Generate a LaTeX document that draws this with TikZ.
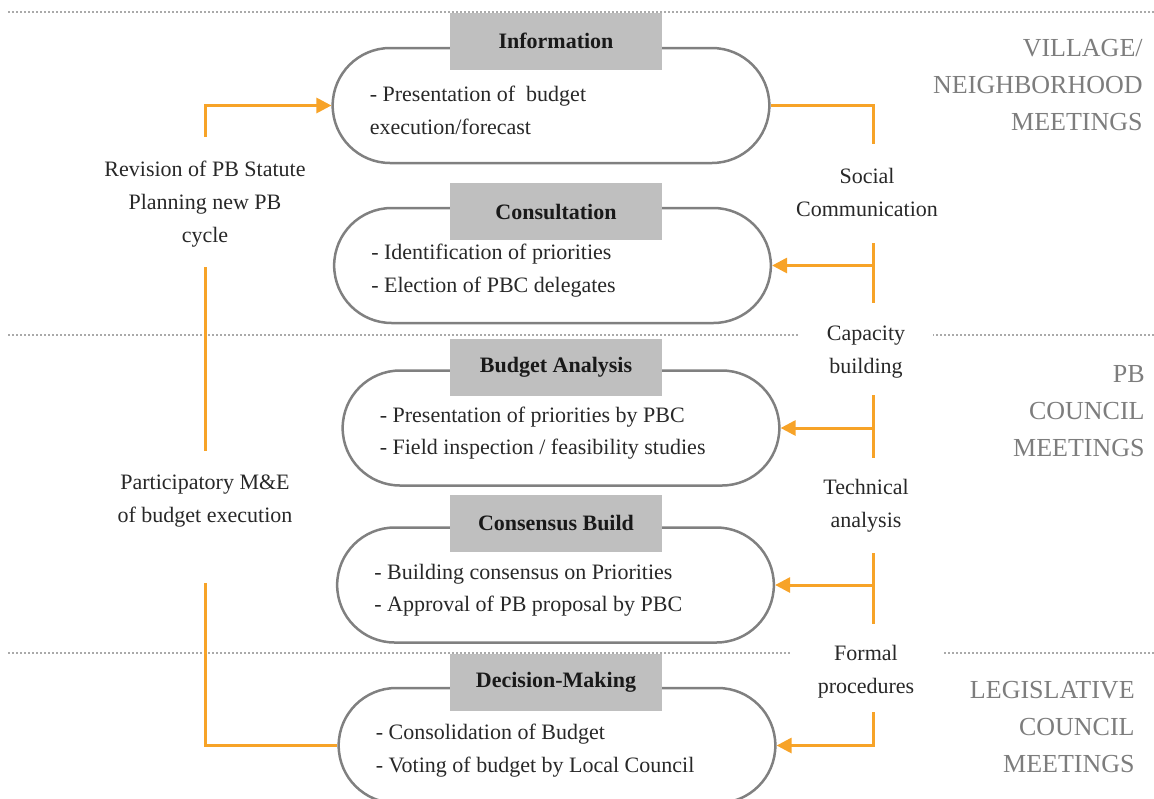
\documentclass[tikz,border=0pt]{standalone}
\usepackage{fontspec}
\setmainfont{Liberation Serif}
\usetikzlibrary{positioning,shapes.misc,arrows.meta}

\definecolor{floworange}{RGB}{247,163,40}
\definecolor{pillgray}{RGB}{128,128,128}
\definecolor{headgray}{RGB}{191,191,191}
\definecolor{textgray}{RGB}{40,40,40}
\definecolor{levelgray}{RGB}{125,125,125}
\definecolor{dotgray}{RGB}{170,170,170}

\begin{document}
\begin{tikzpicture}[x=0.5pt, y=-0.5pt,
        pill/.style={rounded rectangle, draw=pillgray, line width=1.25pt, fill=white,
                     minimum width=225pt, minimum height=57.5pt},
        head/.style={fill=headgray, minimum width=106pt, minimum height=28.5pt,
                     font=\fontsize{11}{13}\selectfont\bfseries, text=black!90},
        items/.style={align=left, font=\fontsize{11}{16.25}\selectfont, text=textgray, inner sep=0pt},
        side/.style={align=center, font=\fontsize{11}{16.5}\selectfont, text=textgray, fill=white, inner sep=2pt},
        level/.style={align=right, font=\fontsize{13}{18.5}\selectfont, text=levelgray, anchor=east, inner sep=0pt},
        flow/.style={draw=floworange, line width=1.5pt},
        flowarr/.style={flow, -{Triangle[length=7.5pt,width=7.5pt]}},
        sepline/.style={draw=dotgray, line width=1pt, dash pattern=on 1pt off 1pt}]
    \useasboundingbox (0,0) rectangle (1154,798);

    \draw[sepline] (8,12) -- (1154,12);
    \draw[sepline] (8,335) -- (1154,335);
    \draw[sepline] (8,653) -- (1154,653);

    \node[level] (village) at (1143,85) {VILLAGE/\\NEIGHBORHOOD\\MEETINGS};
    \node[level] (pbcouncil) at (1145,411) {PB\\COUNCIL\\MEETINGS};
    \node[level] (legislative) at (1135,727) {LEGISLATIVE\\COUNCIL\\MEETINGS};

    \node[side] (social) at (867,192.5) {Social\\Communication};
    \node[side, inner xsep=14pt] (capacity) at (866,352.5) {Capacity\\building};
    \node[side] (technical) at (866,506) {Technical\\analysis};
    \node[side, inner xsep=14pt] (formal) at (866,671.5) {Formal\\procedures};
    \node[side] (revision) at (205,204) {Revision of PB Statute\\Planning new PB\\cycle};
    \node[side] (mne) at (205,501) {Participatory M\&E\\of budget execution};

    \node[pill] (p1) at (551,105.5) {};
    \node[pill] (p2) at (552.5,265.5) {};
    \node[pill] (p3) at (561,428) {};
    \node[pill] (p4) at (555.5,585) {};
    \node[pill] (p5) at (557,745.5) {};

    \node[head] (h1) at (556,41) {Information};
    \node[head] (h2) at (556,211.5) {Consultation};
    \node[head] (h3) at (556,367) {Budget Analysis};
    \node[head] (h4) at (556,523) {Consensus Build};
    \node[head] (h5) at (556,682.5) {Decision-Making};

    \node[items, right=19pt of p1.west, yshift=-2.5pt] (t1) {- Presentation of\ \ budget\\execution/forecast};
    \node[items, right=19pt of p2.west, yshift=-2.5pt] (t2) {- Identification of priorities\\- Election of PBC delegates};
    \node[items, right=19pt of p3.west, yshift=-2.5pt] (t3) {- Presentation of priorities by PBC\\- Field inspection / feasibility studies};
    \node[items, right=19pt of p4.west, yshift=-2.5pt] (t4) {- Building consensus on Priorities\\- Approval of PB proposal by PBC};
    \node[items, right=19pt of p5.west, yshift=-2.5pt] (t5) {- Consolidation of Budget\\- Voting of budget by Local Council};

    \coordinate (revtop) at (205,137);
    \coordinate (revbot) at (205,267);
    \coordinate (mnetop) at (205,451);
    \coordinate (mnebot) at (205,583);
    \coordinate (soctop) at (873,144);
    \coordinate (socbot) at (873,243);
    \coordinate (captop) at (873,303);
    \coordinate (capbot) at (873,395);
    \coordinate (techtop) at (873,458);
    \coordinate (techbot) at (873,553);
    \coordinate (formtop) at (873,624);
    \coordinate (formbot) at (873,712);

    \draw[flowarr] (revtop) |- (p1.west);
    \draw[flow] (revbot) -- (mnetop);
    \draw[flow] (mnebot) |- (p5.west);
    \draw[flow] (p1.east) -| (soctop);
    \draw[flow] (socbot) -- (captop);
    \draw[flowarr] (socbot |- p2.east) -- (p2.east);
    \draw[flow] (capbot) -- (techtop);
    \draw[flowarr] (capbot |- p3.east) -- (p3.east);
    \draw[flow] (techbot) -- (formtop);
    \draw[flowarr] (techbot |- p4.east) -- (p4.east);
    \draw[flowarr] (formbot) |- (p5.east);
\end{tikzpicture}
\end{document}
